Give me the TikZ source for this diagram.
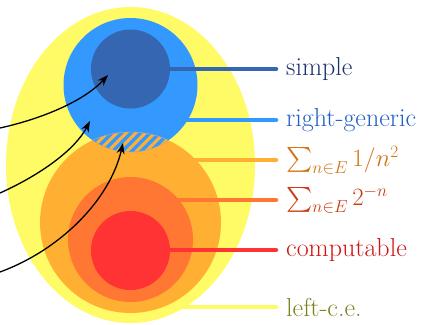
\documentclass[tikz,border=0pt]{standalone}
\usepackage{amsmath}
\usepackage{exscale}
\usetikzlibrary{arrows.meta,shapes.geometric}
\definecolor{cyel}{RGB}{255,251,102}
\definecolor{cblue}{RGB}{51,153,255}
\definecolor{cdblue}{RGB}{52,102,178}
\definecolor{corange}{RGB}{255,176,51}
\definecolor{cdorange}{RGB}{255,119,51}
\definecolor{cred}{RGB}{255,51,51}
\definecolor{tsimple}{RGB}{28,50,110}
\definecolor{tright}{RGB}{35,95,195}
\definecolor{tone}{RGB}{210,115,20}
\definecolor{ttwo}{RGB}{205,60,15}
\definecolor{tcomp}{RGB}{210,20,20}
\definecolor{tleft}{RGB}{128,128,32}
\begin{document}
\begin{tikzpicture}[x=1pt,y=-1pt,
  blob/.style={circle,inner sep=0pt,draw=none},
  lead/.style={line width=4.5pt,line cap=round},
  lbl/.style={anchor=west,inner sep=0pt,font=\fontsize{26}{31}\selectfont},
  arr/.style={line width=1.3pt,-{Stealth[length=11pt,width=8pt]}}]
\useasboundingbox (0,0) rectangle (433,324);
% labels (placed first so leads can refer to them)
\node[lbl,text=tsimple] (Ls) at (286,69) {simple};
\node[lbl,text=tright] (Lr) at (286,120) {right-generic};
\node[lbl,text=tone] (Lo) at (286,160) {$\sum_{n\in E} 1/n^2$};
\node[lbl,text=ttwo] (Lt) at (286,200) {$\sum_{n\in E} 2^{-n}$};
\node[lbl,text=tcomp] (Lc) at (286,250) {computable};
\node[lbl,text=tleft] (Ll) at (286,307) {left-c.e.};
% yellow
\node[ellipse,inner sep=0pt,draw=none,fill=cyel,minimum width=249pt,minimum height=316pt] (ye) at (130.5,165) {};
\draw[lead,cyel] (Ll.west -| ye.center) -- ([xshift=-10pt]Ll.west);
% light blue
\draw[lead,cblue] (Lr.west -| ye.center) -- ([xshift=-10pt]Lr.west);
\node[blob,fill=cblue,minimum size=134pt] (bc) at (130.5,85) {};
% dark blue
\draw[lead,cdblue] (Ls.west -| bc.center) -- ([xshift=-10pt]Ls.west);
\node[blob,fill=cdblue,minimum size=79pt] (dc) at (130.5,69) {};
% orange
\draw[lead,corange] (Lo.west -| ye.center) -- ([xshift=-10pt]Lo.west);
\node[blob,fill=corange,minimum size=181pt] (oc) at (130.5,222.5) {};
% hatched intersection
\begin{scope}
  \clip (130.5,85) circle (67);
  \clip (130.5,222.5) circle (90.5);
  \fill[corange] (60,120) rectangle (200,170);
  \foreach \k in {0,...,13} \draw[cblue,line width=3.4pt] (58+\k*9.5,168) -- ++(42,-42);
\end{scope}
\begin{scope}
  \clip (130.5,85) circle (67);
  \draw[gray!70,line width=0.5pt] (130.5,222.5) circle (90.5);
\end{scope}
\begin{scope}
  \clip (130.5,222.5) circle (90.5);
  \draw[gray!70,line width=0.5pt] (130.5,85) circle (67);
\end{scope}
% dark orange
\draw[lead,cdorange] (Lt.west -| oc.center) -- ([xshift=-10pt]Lt.west);
\node[blob,fill=cdorange,minimum size=125pt] (doc) at (130.5,239.5) {};
% red
\draw[lead,cred] (Lc.west -| doc.center) -- ([xshift=-10pt]Lc.west);
\node[blob,fill=cred,minimum size=79pt] (rc) at (130.5,250.5) {};
% arrows
\coordinate (a1s) at (0,128);
\coordinate (a1e) at (108,75);
\coordinate (a2s) at (0,193);
\coordinate (a2e) at (90,121);
\coordinate (a3s) at (0,272);
\coordinate (a3e) at (123,143);
\draw[arr] (a1s) .. controls (45,118) and (85,100) .. (a1e);
\draw[arr] (a2s) .. controls (40,175) and (75,150) .. (a2e);
\draw[arr] (a3s) .. controls (60,250) and (110,200) .. (a3e);
\end{tikzpicture}
\end{document}
